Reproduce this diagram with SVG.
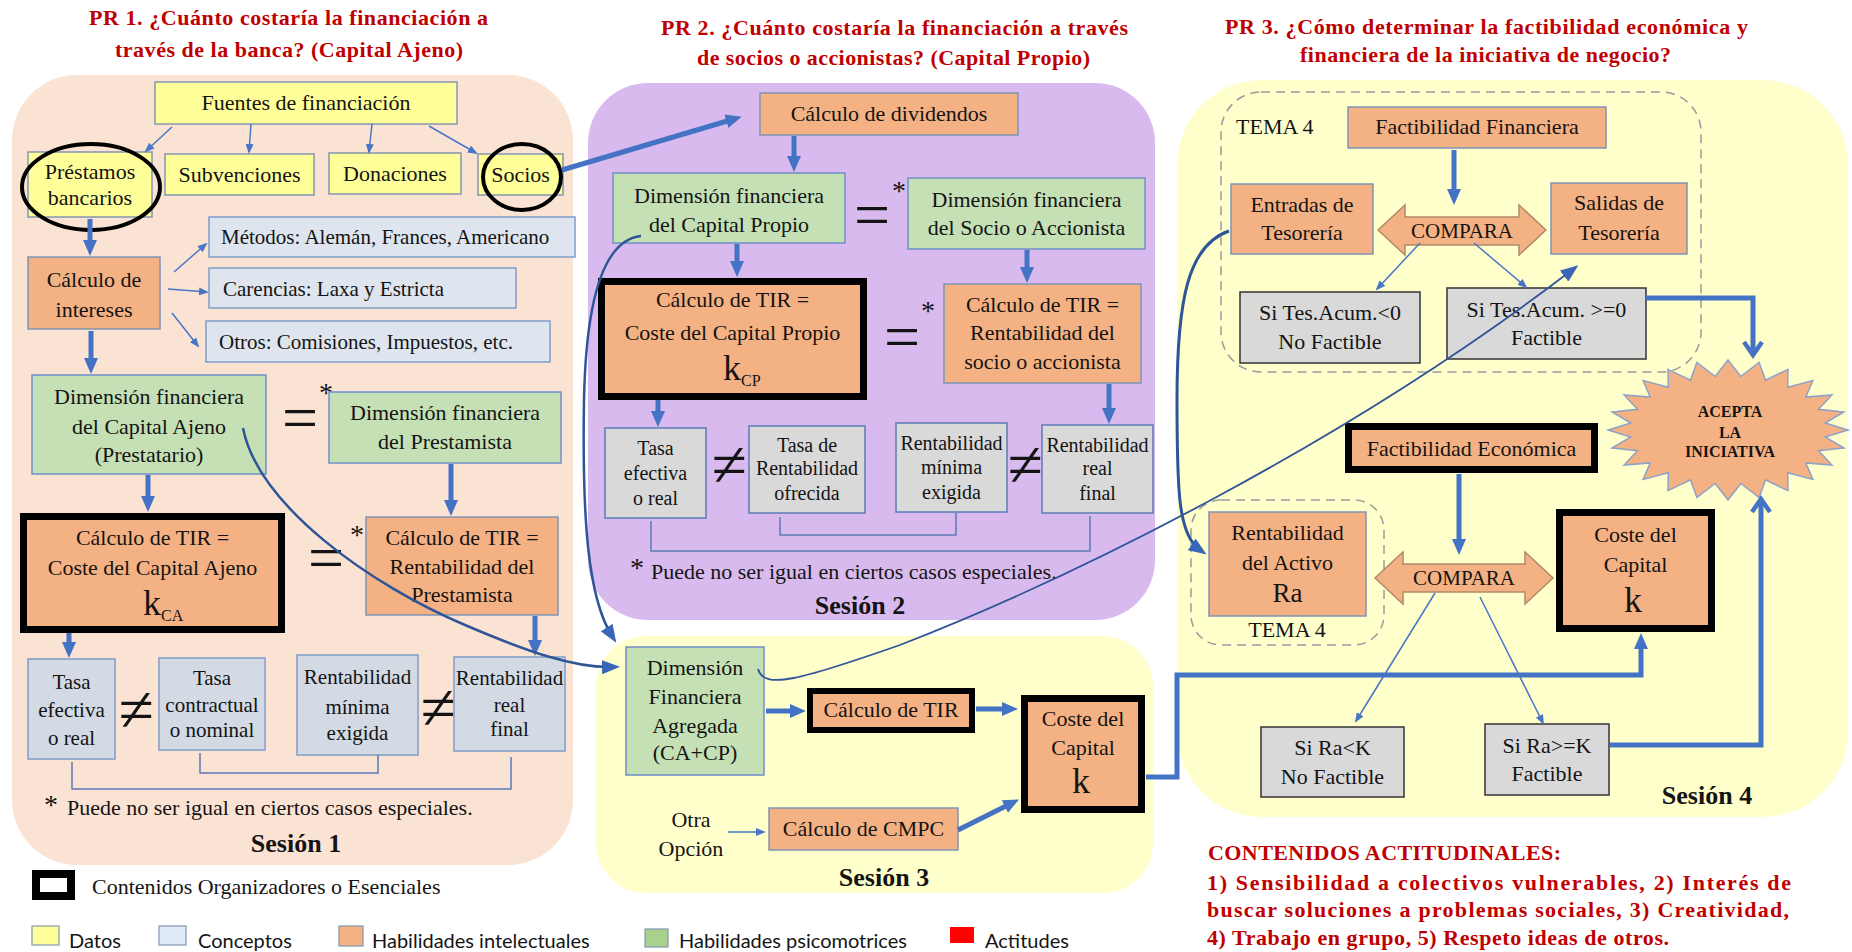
<svg xmlns="http://www.w3.org/2000/svg" width="1852" height="952" viewBox="0 0 1852 952">
<style>
text{font-family:"Liberation Serif","Times New Roman",serif;font-size:22px;fill:#141414;text-anchor:middle}
.st{text-anchor:start}
.s20{font-size:20px}
.s21{font-size:21px}
.title{font-weight:bold;fill:#C00000;text-anchor:start}
.ses{font-weight:bold;font-size:26px}
.big{font-size:64px}
.ast{font-size:28px}
.leg{font-family:Lato,"Liberation Sans",sans-serif;font-size:20px;text-anchor:start}
.yel{fill:#FFFF99;stroke:#8497B0;stroke-width:1.5}
.con{fill:#DEE5EE;stroke:#7F9CC9;stroke-width:1.5}
.con1{fill:#D3DAE4;stroke:#7F9CC9;stroke-width:1.5}
.con2{fill:#D9D9D9;stroke:#5B7BB5;stroke-width:1.5}
.conk{fill:#D9D9D9;stroke:#333;stroke-width:1.5}
.ora{fill:#F4B183;stroke:#7F95B5;stroke-width:1.5}
.orak{fill:#F4B183;stroke:#000;stroke-width:7}
.grn{fill:#C5E0B4;stroke:#6F8FC8;stroke-width:1.5}
.thick{stroke:#4472C4;stroke-width:5;fill:none;marker-end:url(#ah)}
.thin{stroke:#4A76C6;stroke-width:1.5;fill:none;marker-end:url(#ahs)}
.curve{stroke:#2F5597;stroke-width:2.5;fill:none;marker-end:url(#ahc)}
.brk{stroke:#5B7BB5;stroke-width:1.5;fill:none}
.dash{fill:none;stroke:#9A9A9A;stroke-width:1.5;stroke-dasharray:9 6}
.cmp{fill:#F4B183;stroke:#B08A6A;stroke-width:1.5}
</style>
<defs>
<marker id="ah" markerUnits="userSpaceOnUse" viewBox="0 0 16 16" refX="8" refY="8" markerWidth="16" markerHeight="16" orient="auto"><path d="M0,1 L16,8 L0,15 z" fill="#4472C4"/></marker>
<marker id="ahs" markerUnits="userSpaceOnUse" viewBox="0 0 10 8" refX="8" refY="4" markerWidth="10" markerHeight="8" orient="auto"><path d="M0,0 L10,4 L0,8 z" fill="#4A76C6"/></marker>
<marker id="ahc" markerUnits="userSpaceOnUse" viewBox="0 0 18 14" refX="10" refY="7" markerWidth="18" markerHeight="14" orient="auto"><path d="M0,0 L18,7 L0,14 z" fill="#3A66B8"/></marker>
<marker id="ahv" markerUnits="userSpaceOnUse" viewBox="0 0 22 22" refX="16" refY="11" markerWidth="22" markerHeight="22" orient="auto"><path d="M4,2 L17,11 L4,20" fill="none" stroke="#4472C4" stroke-width="4.5"/></marker>
</defs>

<g id="backgrounds">
<rect x="12" y="75" width="561" height="790" rx="65" fill="#FBE3D4"/>
<rect x="588" y="83" width="567" height="537" rx="60" fill="#D8BAEE"/>
<rect x="596" y="636" width="557" height="257" rx="50" fill="#FFFFCC"/>
<rect x="1177" y="80" width="671" height="737" rx="85" fill="#FFFFCC"/>
<rect class="dash" x="1221" y="92" width="480" height="280" rx="40"/>
<rect class="dash" x="1191" y="500" width="193" height="145" rx="30"/>
</g>

<g id="titles">
<text class="title" x="89" y="25" textLength="399" lengthAdjust="spacing">PR 1. ¿Cuánto costaría la financiación a</text>
<text class="title" x="115" y="57" textLength="348" lengthAdjust="spacing">través de la banca? (Capital Ajeno)</text>
<text class="title" x="661" y="35" textLength="467" lengthAdjust="spacing">PR 2. ¿Cuánto costaría la financiación a través</text>
<text class="title" x="697" y="65" textLength="393" lengthAdjust="spacing">de socios o accionistas? (Capital Propio)</text>
<text class="title" x="1225" y="34" textLength="523" lengthAdjust="spacing">PR 3. ¿Cómo determinar la factibilidad económica y</text>
<text class="title" x="1300" y="62" textLength="371" lengthAdjust="spacing">financiera de la iniciativa de negocio?</text>
</g>

<g id="n-fuentes"><rect class="yel" x="155" y="82" width="302" height="42"/><text x="306" y="110">Fuentes de financiación</text></g>
<g id="n-prestamos"><rect class="yel" x="28" y="152" width="124" height="65"/><text x="90" y="179">Préstamos</text><text x="90" y="205">bancarios</text><ellipse cx="91" cy="187" rx="69" ry="43" fill="none" stroke="#000" stroke-width="4"/></g>
<g id="n-subvenciones"><rect class="yel" x="165" y="154" width="149" height="41"/><text x="239.5" y="182">Subvenciones</text></g>
<g id="n-donaciones"><rect class="yel" x="329" y="153" width="132" height="41"/><text x="395" y="181">Donaciones</text></g>
<g id="n-socios"><rect class="yel" x="478" y="154" width="85" height="41"/><text x="520.5" y="182">Socios</text><ellipse cx="522" cy="177" rx="39" ry="33" fill="none" stroke="#000" stroke-width="4"/></g>
<g id="n-metodos"><rect class="con" x="209" y="217" width="366" height="40"/><text class="st s21" x="221" y="244">Métodos: Alemán, Frances, Americano</text></g>
<g id="n-carencias"><rect class="con" x="209" y="268" width="307" height="40"/><text class="st s21" x="223" y="296">Carencias: Laxa y Estricta</text></g>
<g id="n-otros"><rect class="con" x="206" y="321" width="344" height="41"/><text class="st s21" x="219" y="349">Otros: Comisiones, Impuestos, etc.</text></g>
<g id="n-calc-intereses"><rect class="ora" x="28" y="257" width="132" height="72"/><text x="94" y="287">Cálculo de</text><text x="94" y="317">intereses</text></g>
<g id="n-dim-ca"><rect class="grn" x="32" y="375" width="234" height="99"/><text x="149" y="404">Dimensión financiera</text><text x="149" y="434">del Capital Ajeno</text><text x="149" y="462">(Prestatario)</text></g>
<g id="n-eq1"><text class="big" x="300" y="439">=</text><text class="ast" x="326" y="402">*</text></g>
<g id="n-dim-prest"><rect class="grn" x="329" y="392" width="232" height="71"/><text x="445" y="420">Dimensión financiera</text><text x="445" y="449">del Prestamista</text></g>
<g id="n-kca"><rect class="orak" x="23.5" y="516.5" width="258" height="113"/><text x="152.5" y="545">Cálculo de TIR =</text><text x="152.5" y="575">Coste del Capital Ajeno</text><text class="st" x="143" y="615" style="font-size:36px">k<tspan style="font-size:16px" dy="6">CA</tspan></text></g>
<g id="n-eq2"><text class="big" x="326" y="579">=</text><text class="ast" x="357" y="544">*</text></g>
<g id="n-rent-prest"><rect class="ora" x="366" y="517" width="192" height="98"/><text x="462" y="545">Cálculo de TIR =</text><text x="462" y="574">Rentabilidad del</text><text x="462" y="602">Prestamista</text></g>
<g id="n-tasa-ef1"><rect class="con1" x="28" y="659" width="87" height="100"/><text class="s21" x="71.5" y="689">Tasa</text><text class="s21" x="71.5" y="717">efectiva</text><text class="s21" x="71.5" y="745">o real</text></g>
<g id="n-neq1"><text class="big" x="136" y="731">≠</text></g>
<g id="n-tasa-cont"><rect class="con1" x="159" y="658" width="106" height="92"/><text class="s21" x="212" y="685">Tasa</text><text class="s21" x="212" y="712">contractual</text><text class="s21" x="212" y="737">o nominal</text></g>
<g id="n-rent-min1"><rect class="con1" x="297" y="655" width="121" height="100"/><text class="s21" x="357.5" y="684">Rentabilidad</text><text class="s21" x="357.5" y="714">mínima</text><text class="s21" x="357.5" y="740">exigida</text></g>
<g id="n-neq2"><text class="big" x="438" y="729">≠</text></g>
<g id="n-rent-real1"><rect class="con1" x="454" y="657" width="111" height="94"/><text class="s21" x="509.5" y="685">Rentabilidad</text><text class="s21" x="509.5" y="712">real</text><text class="s21" x="509.5" y="736">final</text></g>
<g id="n-nota1"><text class="ast" x="51" y="814">*</text><text class="st" x="67" y="815">Puede no ser igual en ciertos casos especiales.</text></g>
<g id="n-sesion1"><text class="ses" x="296" y="852">Sesión 1</text></g>

<g id="n-dividendos"><rect class="ora" x="760" y="93" width="258" height="42"/><text x="889" y="121">Cálculo de dividendos</text></g>
<g id="n-dim-cp"><rect class="grn" x="613" y="173" width="232" height="70"/><text x="729" y="203">Dimensión financiera</text><text x="729" y="232">del Capital Propio</text></g>
<g id="n-eq3"><text class="big" x="872" y="236">=</text><text class="ast" x="899" y="200">*</text></g>
<g id="n-dim-socio"><rect class="grn" x="908" y="178" width="237" height="71"/><text x="1026.5" y="207">Dimensión financiera</text><text x="1026.5" y="235">del Socio o Accionista</text></g>
<g id="n-kcp"><rect class="orak" x="601.5" y="281.5" width="262" height="115"/><text x="732.5" y="307">Cálculo de TIR =</text><text x="732.5" y="340">Coste del Capital Propio</text><text class="st" x="723" y="380" style="font-size:36px">k<tspan style="font-size:16px" dy="6">CP</tspan></text></g>
<g id="n-eq4"><text class="big" x="902" y="358">=</text><text class="ast" x="928" y="320">*</text></g>
<g id="n-rent-socio"><rect class="ora" x="944" y="284" width="197" height="99"/><text x="1042.5" y="312">Cálculo de TIR =</text><text x="1042.5" y="340">Rentabilidad del</text><text x="1042.5" y="369">socio o accionista</text></g>
<g id="n-tasa-ef2"><rect class="con2" x="605" y="428" width="101" height="90"/><text class="s20" x="655.5" y="455">Tasa</text><text class="s20" x="655.5" y="480">efectiva</text><text class="s20" x="655.5" y="505">o real</text></g>
<g id="n-neq3"><text class="big" x="729" y="486">≠</text></g>
<g id="n-tasa-rent"><rect class="con2" x="749" y="426" width="116" height="87"/><text class="s20" x="807" y="452">Tasa de</text><text class="s20" x="807" y="475">Rentabilidad</text><text class="s20" x="807" y="500">ofrecida</text></g>
<g id="n-rent-min2"><rect class="con2" x="896" y="423" width="111" height="89"/><text class="s20" x="951.5" y="450">Rentabilidad</text><text class="s20" x="951.5" y="474">mínima</text><text class="s20" x="951.5" y="499">exigida</text></g>
<g id="n-neq4"><text class="big" x="1025" y="486">≠</text></g>
<g id="n-rent-real2"><rect class="con2" x="1042" y="425" width="111" height="88"/><text class="s20" x="1097.5" y="452">Rentabilidad</text><text class="s20" x="1097.5" y="475">real</text><text class="s20" x="1097.5" y="500">final</text></g>
<g id="n-nota2"><text class="ast" x="637" y="577">*</text><text class="st" x="651" y="579">Puede no ser igual en ciertos casos especiales.</text></g>
<g id="n-sesion2"><text class="ses" x="860" y="614">Sesión 2</text></g>

<g id="n-dim-agr"><rect class="grn" x="626" y="647" width="138" height="128"/><text x="695" y="675">Dimensión</text><text x="695" y="704">Financiera</text><text x="695" y="733">Agregada</text><text x="695" y="760">(CA+CP)</text></g>
<g id="n-calc-tir"><rect class="orak" style="stroke-width:6" x="810" y="691" width="162" height="39"/><text x="891" y="717">Cálculo de TIR</text></g>
<g id="n-coste3"><rect class="orak" x="1024.5" y="698.5" width="117" height="111"/><text x="1083" y="726">Coste del</text><text x="1083" y="755">Capital</text><text x="1081" y="793" style="font-size:36px">k</text></g>
<g id="n-otra"><text x="691" y="827">Otra</text><text x="691" y="856">Opción</text></g>
<g id="n-cmpc"><rect class="ora" x="769" y="808" width="189" height="42"/><text x="863.5" y="836">Cálculo de CMPC</text></g>
<g id="n-sesion3"><text class="ses" x="884" y="886">Sesión 3</text></g>

<g id="n-tema4a"><text class="st" x="1236" y="134">TEMA 4</text></g>
<g id="n-fact-fin"><rect class="ora" x="1348" y="107" width="258" height="41"/><text x="1477" y="134">Factibilidad Financiera</text></g>
<g id="n-entradas"><rect class="ora" x="1231" y="184" width="142" height="70"/><text x="1302" y="212">Entradas de</text><text x="1302" y="240">Tesorería</text></g>
<g id="n-compara1"><polygon class="cmp" points="1378,230 1405,205 1405,217 1519,217 1519,205 1546,230 1519,255 1519,245 1405,245 1405,255"/><text class="s21" x="1462" y="238">COMPARA</text></g>
<g id="n-salidas"><rect class="ora" x="1551" y="183" width="136" height="71"/><text x="1619" y="210">Salidas de</text><text x="1619" y="240">Tesorería</text></g>
<g id="n-sites0"><rect class="conk" x="1240" y="292" width="180" height="71"/><text x="1330" y="320">Si Tes.Acum.&lt;0</text><text x="1330" y="349">No Factible</text></g>
<g id="n-sites1"><rect class="conk" x="1447" y="288" width="199" height="71"/><text x="1546.5" y="317">Si Tes.Acum. &gt;=0</text><text x="1546.5" y="345">Factible</text></g>
<g id="n-acepta"><polygon fill="#F4B183" stroke="#8EA2C8" stroke-width="1.5" points="1848,430 1825.2,437 1843.9,448.1 1818.5,450.7 1831.9,465 1805.7,462.9 1812.9,479.5 1787.7,472.8 1788,490.6 1765.5,479.9 1759.1,497.6 1740.8,483.5 1728,500 1715.2,483.5 1696.9,497.6 1690.5,479.9 1668,490.6 1668.3,472.8 1643.1,479.5 1650.3,462.9 1624.1,465 1637.5,450.7 1612.1,448.1 1630.8,437 1608,430 1630.8,423 1612.1,411.9 1637.5,409.3 1624.1,395 1650.3,397.1 1643.1,380.5 1668.3,387.2 1668,369.4 1690.5,380.1 1696.9,362.4 1715.2,376.5 1728,360 1740.8,376.5 1759.1,362.4 1765.5,380.1 1788,369.4 1787.7,387.2 1812.9,380.5 1805.7,397.1 1831.9,395 1818.5,409.3 1843.9,411.9 1825.2,423"/><text x="1730" y="417" style="font-size:16px;font-weight:bold">ACEPTA</text><text x="1730" y="438" style="font-size:16px;font-weight:bold">LA</text><text x="1730" y="457" style="font-size:16px;font-weight:bold">INICIATIVA</text></g>
<g id="n-fact-eco"><rect class="orak" x="1348.5" y="426.5" width="246" height="43"/><text x="1471.5" y="456">Factibilidad Económica</text></g>
<g id="n-rent-activo"><rect class="ora" x="1209" y="512" width="157" height="104"/><text x="1287.5" y="540">Rentabilidad</text><text x="1287.5" y="570">del Activo</text><text x="1287.5" y="602" style="font-size:27px">Ra</text></g>
<g id="n-tema4b"><text x="1287" y="637">TEMA 4</text></g>
<g id="n-compara2"><polygon class="cmp" points="1375,578 1403,552 1403,564 1525,564 1525,552 1553,578 1525,604 1525,592 1403,592 1403,604"/><text class="s21" x="1464" y="585">COMPARA</text></g>
<g id="n-coste4"><rect class="orak" x="1559.5" y="512.5" width="152" height="116"/><text x="1635.5" y="542">Coste del</text><text x="1635.5" y="572">Capital</text><text x="1633" y="612" style="font-size:36px">k</text></g>
<g id="n-sira0"><rect class="conk" x="1261" y="727" width="143" height="70"/><text x="1332.5" y="755">Si Ra&lt;K</text><text x="1332.5" y="784">No Factible</text></g>
<g id="n-sira1"><rect class="conk" x="1485" y="724" width="124" height="71"/><text x="1547" y="753">Si Ra&gt;=K</text><text x="1547" y="781">Factible</text></g>
<g id="n-sesion4"><text class="ses" x="1707" y="804">Sesión 4</text></g>

<g id="n-actitudinales">
<text class="title" x="1208" y="860" textLength="353" lengthAdjust="spacing">CONTENIDOS ACTITUDINALES:</text>
<text class="title" x="1207" y="890" textLength="584" lengthAdjust="spacing">1) Sensibilidad a colectivos vulnerables, 2) Interés de</text>
<text class="title" x="1207" y="917" textLength="582" lengthAdjust="spacing">buscar soluciones a problemas sociales, 3) Creatividad,</text>
<text class="title" x="1207" y="945" textLength="462" lengthAdjust="spacing">4) Trabajo en grupo, 5) Respeto ideas de otros.</text>
</g>

<g id="legend">
<rect x="36" y="874" width="35" height="22" fill="#fff" stroke="#000" stroke-width="8"/>
<text class="st" x="92" y="894">Contenidos Organizadores o Esenciales</text>
<rect x="32" y="926" width="27" height="19" fill="#FFFF99" stroke="#8497B0" stroke-width="1.2"/>
<text class="leg" x="69" y="948">Datos</text>
<rect x="159" y="926" width="27" height="19" fill="#DEEBF7" stroke="#8497B0" stroke-width="1.2"/>
<text class="leg" x="198" y="948">Conceptos</text>
<rect x="339" y="926" width="24" height="20" fill="#F4B183" stroke="#8497B0" stroke-width="1.2"/>
<text class="leg" x="372" y="948">Habilidades intelectuales</text>
<rect x="645" y="929" width="23" height="18" fill="#A9D18E" stroke="#8497B0" stroke-width="1.2"/>
<text class="leg" x="679" y="948">Habilidades psicomotrices</text>
<rect x="950" y="927" width="24" height="16" fill="#FF0000"/>
<text class="leg" x="985" y="948">Actitudes</text>
</g>

<g id="connectors">
<path class="thin" d="M172,127 L146,151"/>
<path class="thin" d="M251,124 L249,152"/>
<path class="thin" d="M372,124 L369,152"/>
<path class="thin" d="M429,126 L476,153"/>
<path class="thick" d="M90,219 V248"/>
<path class="thin" d="M174,272 L206,244"/>
<path class="thin" d="M168,289 L207,292"/>
<path class="thin" d="M172,313 L198,346"/>
<path class="thick" d="M91,331 V366"/>
<path class="thick" d="M148,475 V504"/>
<path class="thick" d="M451,464 V508"/>
<path class="thick" d="M69,633 V650"/>
<path class="thick" d="M535,616 V648"/>
<path class="curve" d="M243,428 C258,505 370,585 465,625 C528,652 575,668 612,667"/>
<path class="thick" d="M562,170 L734,119"/>
<path class="thick" d="M794,136 V164"/>
<path class="thick" d="M737,244 V269"/>
<path class="thick" d="M1027,250 V275"/>
<path class="thick" d="M658,400 V419"/>
<path class="thick" d="M1109,384 V416"/>
<path class="curve" d="M641,236 C603,240 586,300 584,400 C582,520 588,598 612,636"/>
<path class="thick" d="M766,711 H798"/>
<path class="thick" d="M976,709 H1010"/>
<path class="thin" d="M728,832 H764"/>
<path class="thick" d="M958,830 L1012,803"/>
<path class="thick" d="M1146,777 H1177 V675 H1641 V641"/>
<path class="curve" style="stroke-width:1.8" d="M758,669 C764,690 800,680 900,645 C1080,575 1350,440 1572,270"/>
<path class="thick" d="M1454,150 V197"/>
<path class="thin" d="M1420,243 L1377,289"/>
<path class="thin" d="M1474,243 L1526,287"/>
<path class="thick" style="marker-end:url(#ahv)" d="M1646,298 H1753 V354"/>
<path class="curve" style="stroke-width:3" d="M1229,231 C1188,245 1177,300 1177,400 C1177,490 1178,535 1200,550"/>
<path class="thick" d="M1459,474 V547"/>
<path class="thin" d="M1435,593 L1356,721"/>
<path class="thin" d="M1480,597 L1543,723"/>
<path class="thick" style="marker-end:url(#ahv)" d="M1610,745 H1761 V500"/>
<path class="brk" d="M72,762 V789 H511 V757"/>
<path class="brk" d="M200,753 V773 H378 V755"/>
<path class="brk" d="M780,517 V535 H956 V513"/>
<path class="brk" d="M651,521 V551 H1090 V516"/>
</g>
</svg>
